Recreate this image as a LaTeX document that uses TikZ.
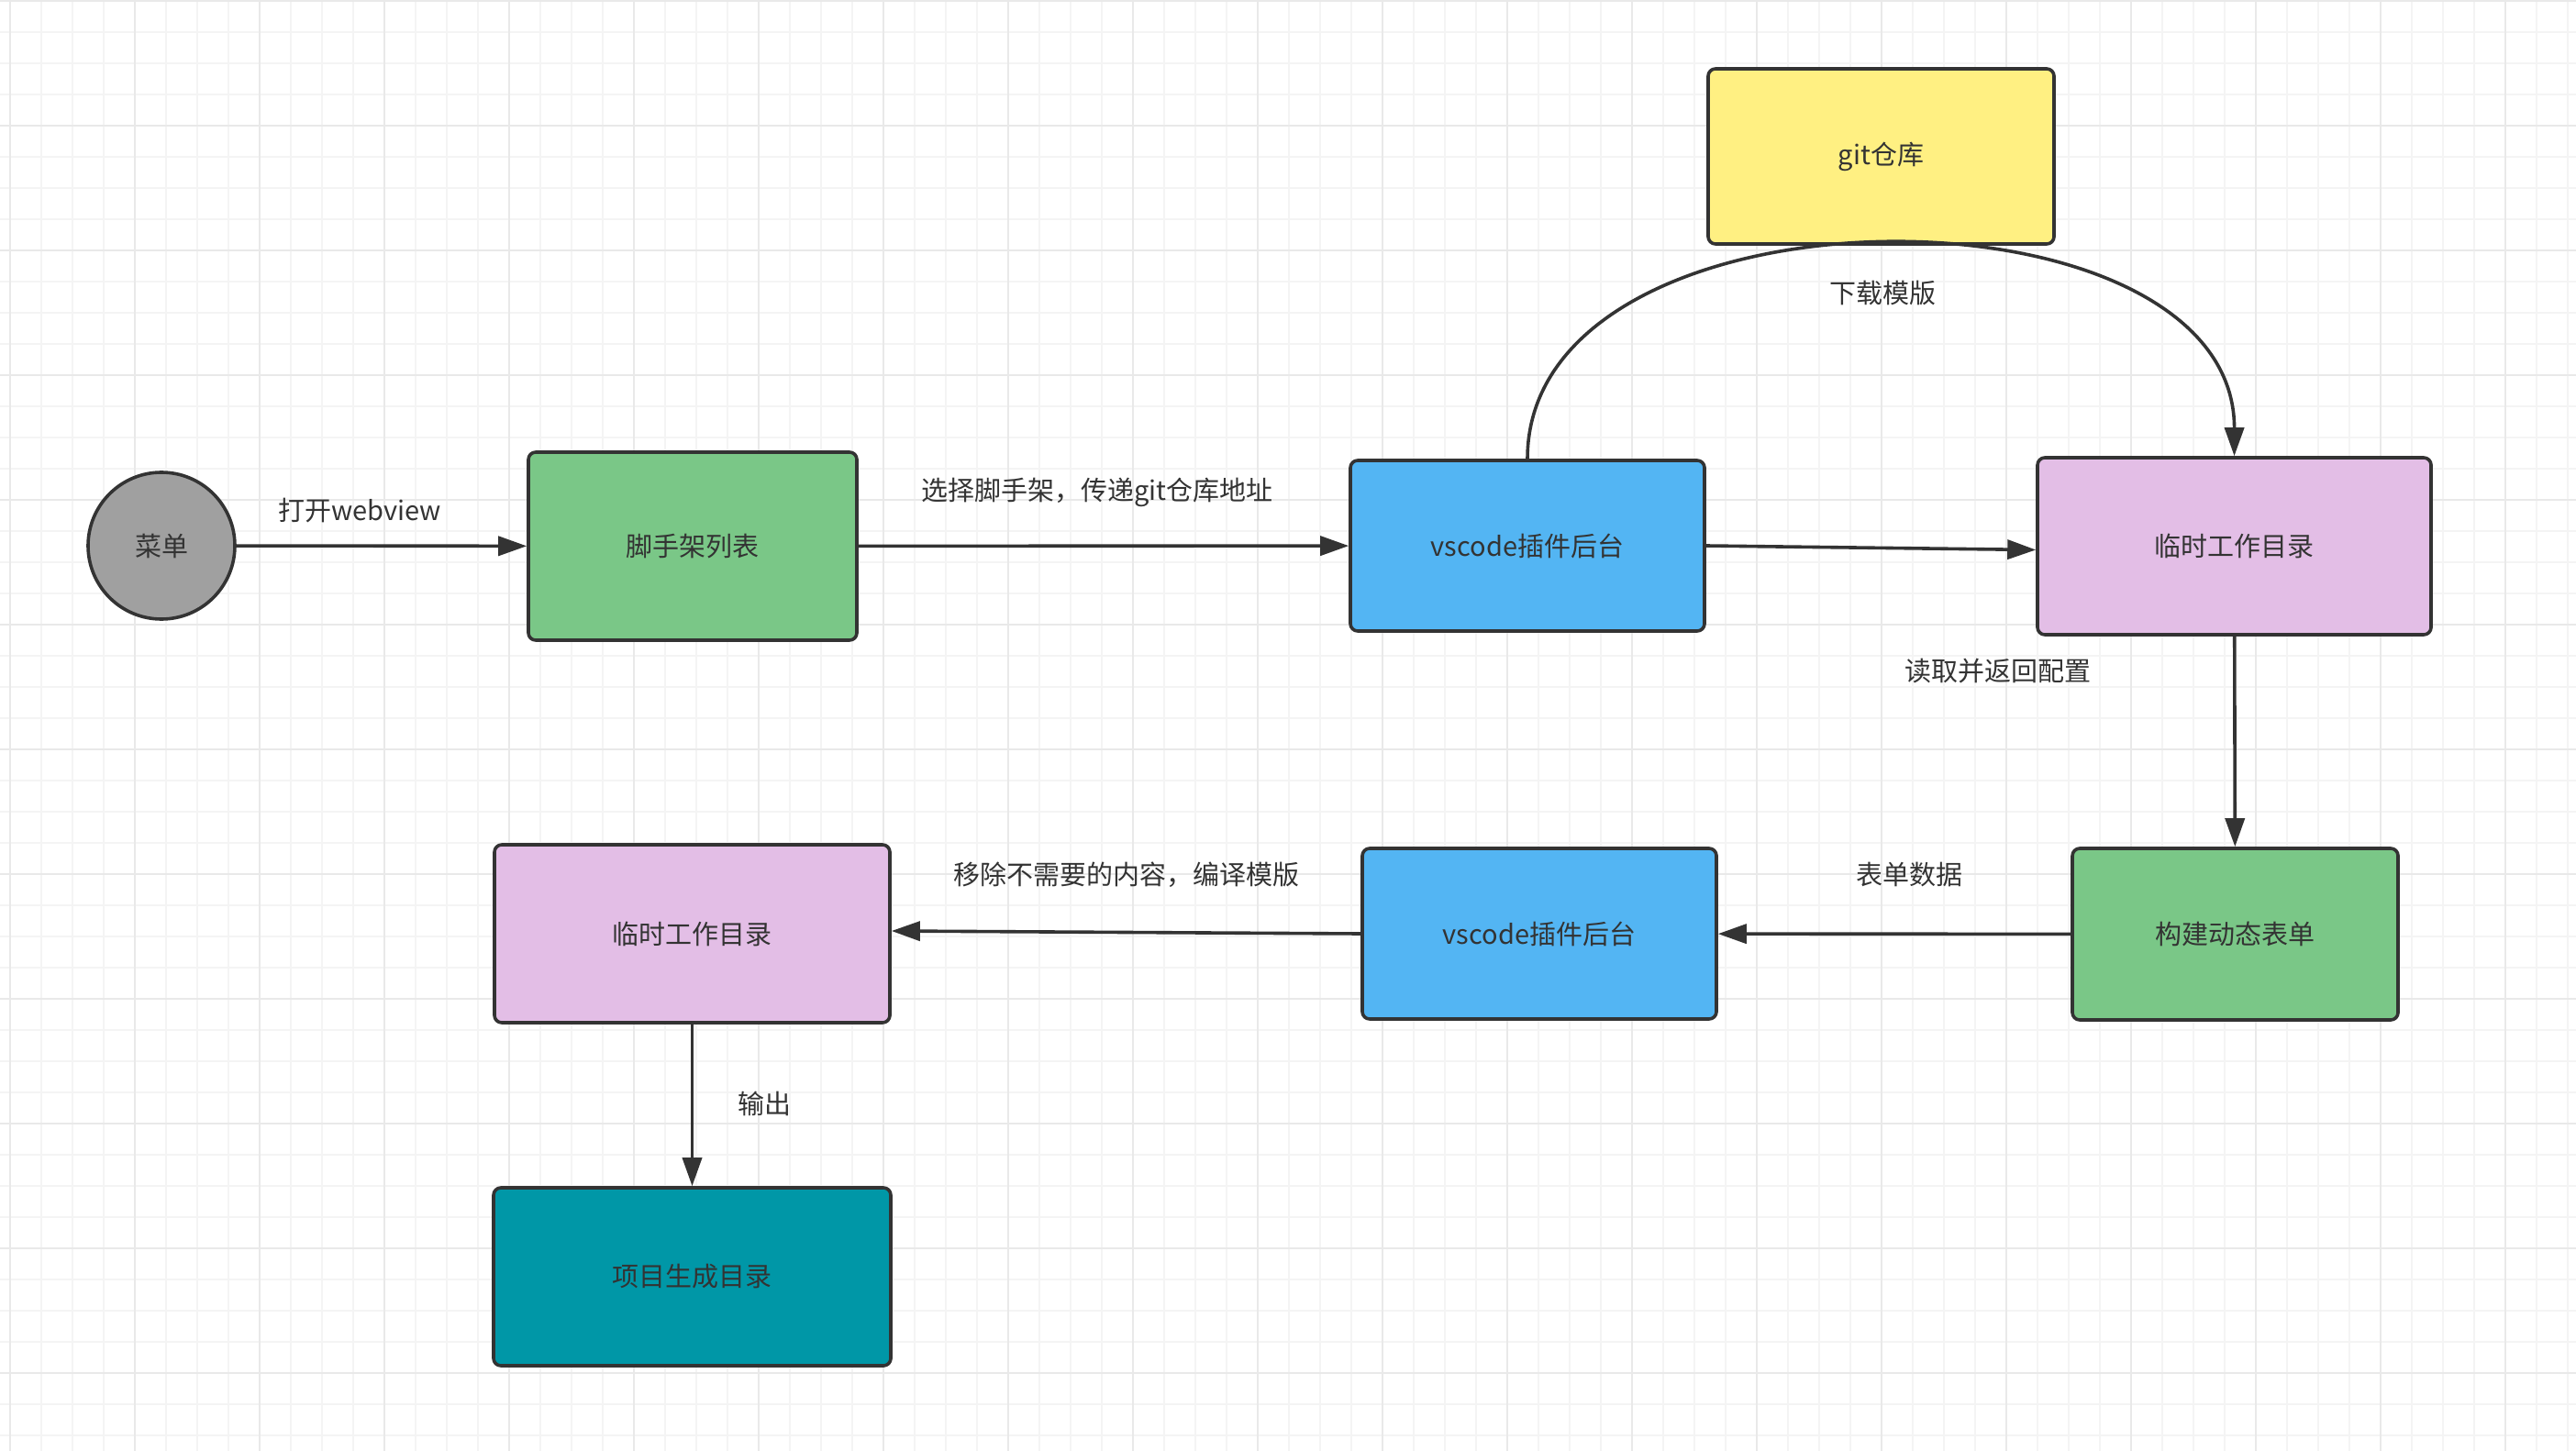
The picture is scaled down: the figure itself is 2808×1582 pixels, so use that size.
\documentclass[tikz,border=0pt]{standalone}
\usepackage{fontspec}
\setmainfont{Noto Sans CJK SC}
\usetikzlibrary{arrows.meta, positioning}
\definecolor{gridminor}{RGB}{244,244,244}
\definecolor{gridmajor}{RGB}{233,233,233}
\definecolor{edgegray}{RGB}{51,51,51}
\definecolor{menugray}{RGB}{160,160,160}
\definecolor{stepgreen}{RGB}{122,199,135}
\definecolor{vsblue}{RGB}{83,181,243}
\definecolor{dirpink}{RGB}{227,190,230}
\definecolor{gityellow}{RGB}{255,240,130}
\definecolor{outteal}{RGB}{0,151,167}

\begin{document}
\begin{tikzpicture}[x=0.5pt, y=-0.5pt,
  box/.style={draw=edgegray, line width=1.8pt, rounded corners=4pt, text=edgegray,
    font=\fontsize{14.5}{16}\selectfont, inner sep=0pt},
  lbl/.style={text=edgegray, font=\fontsize{14.5}{16}\selectfont, inner sep=1pt},
  arr/.style={draw=edgegray, line width=1.8pt, -{Triangle[length=15.5pt, width=10.5pt]}}]

  % canvas and grid
  \fill[white] (0,0) rectangle (2808,1582);
  \useasboundingbox (0,0) rectangle (2808,1582);
  \foreach \gx in {11,45,...,2808} \draw[gridminor, line width=0.75pt] (\gx,0) -- (\gx,1582);
  \foreach \gy in {1,35,...,1582} \draw[gridminor, line width=0.75pt] (0,\gy) -- (2808,\gy);
  \foreach \gx in {11,147,...,2808} \draw[gridmajor, line width=1pt] (\gx,0) -- (\gx,1582);
  \foreach \gy in {1,137,...,1582} \draw[gridmajor, line width=1pt] (0,\gy) -- (2808,\gy);

  % top row
  \node[box, circle, fill=menugray, minimum size=80pt] (menu) at (176,595) {菜单};
  \node[box, fill=stepgreen, minimum width=179pt, minimum height=102.5pt] (scaf) at (755,595.5) {脚手架列表};
  \node[box, fill=vsblue, minimum width=193pt, minimum height=93pt] (vsa) at (1665,595) {vscode插件后台};
  \node[box, fill=dirpink, minimum width=214.5pt, minimum height=96.5pt] (tmpa) at (2435.5,595.5) {临时工作目录};
  \node[box, fill=gityellow, minimum width=188.5pt, minimum height=95.5pt] (git) at (2050.5,170.5) {git仓库};

  % bottom rows
  \node[box, fill=stepgreen, minimum width=177.5pt, minimum height=93.5pt] (form) at (2436.5,1018.5) {构建动态表单};
  \node[box, fill=vsblue, minimum width=193pt, minimum height=93pt] (vsb) at (1678,1018) {vscode插件后台};
  \node[box, fill=dirpink, minimum width=215.5pt, minimum height=97pt] (tmpb) at (754.5,1018) {临时工作目录};
  \node[box, fill=outteal, minimum width=216.5pt, minimum height=97pt] (proj) at (754.5,1392) {项目生成目录};

  % connectors
  \draw[arr] (menu) -- (scaf);
  \draw[arr] (scaf) -- (vsa);
  \draw[arr] (vsa.east) -- ([yshift=-2pt]tmpa.west);
  \draw[arr] (vsa.north) .. controls (1665,190) and (2436,190) .. (tmpa.north);
  \draw[arr] (tmpa) -- (form);
  \draw[arr] (form) -- (vsb);
  \draw[arr] (vsb.west) -- ([yshift=1.5pt]tmpb.east);
  \draw[arr] (tmpb) -- (proj);

  % labels
  \node[lbl] (lopen) at (392,557) {打开webview};
  \node[lbl] (lpick) at (1196,537) {选择脚手架，传递git仓库地址};
  \node[lbl] (lload) at (2052,320) {下载模版};
  \node[lbl] (lread) at (2178,732) {读取并返回配置};
  \node[lbl] (ldata) at (2081,954) {表单数据};
  \node[lbl] (lcomp) at (1228,954) {移除不需要的内容，编译模版};
  \node[lbl] (lout) at (833,1203) {输出};
\end{tikzpicture}
\end{document}
